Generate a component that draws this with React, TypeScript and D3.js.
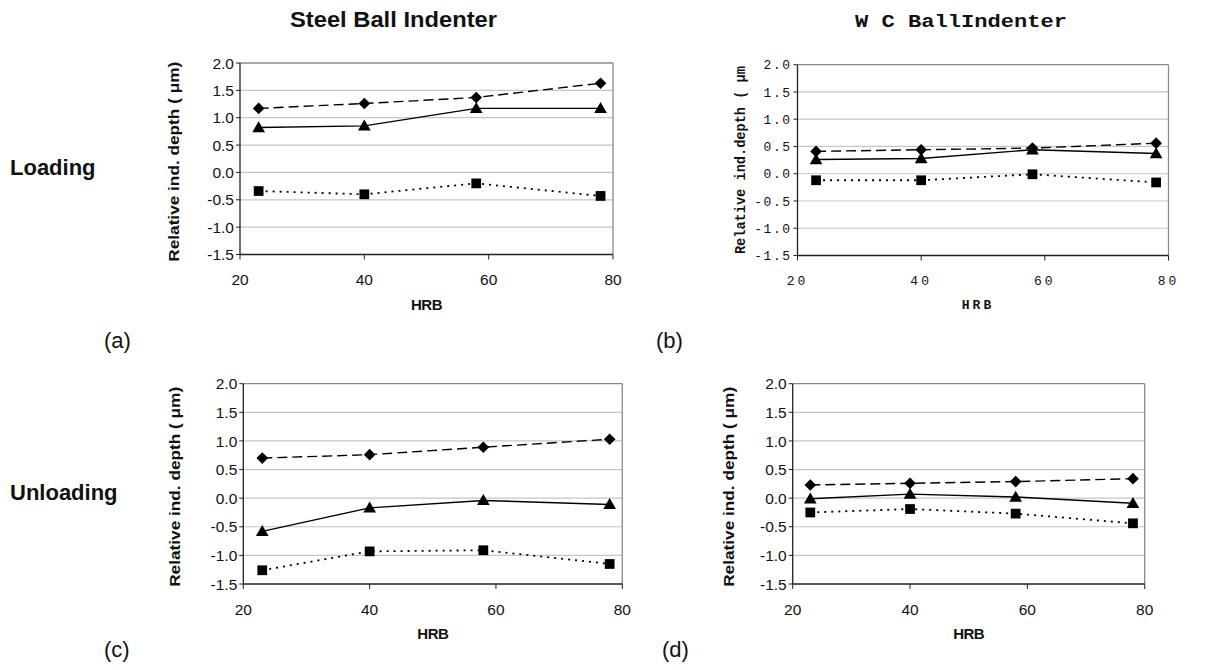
import React from "react";
import * as d3 from "d3";

// ---------- data ----------
const HRB_VALUES = [23, 40, 58, 78];
const X_TICKS = [20, 40, 60, 80];
const Y_TICKS = [-1.5, -1.0, -0.5, 0.0, 0.5, 1.0, 1.5, 2.0];

const A_DIAMOND = [1.17, 1.26, 1.37, 1.63];
const A_TRIANGLE = [0.82, 0.85, 1.17, 1.17];
const A_SQUARE = [-0.34, -0.4, -0.2, -0.43];

const B_DIAMOND = [0.41, 0.44, 0.47, 0.56];
const B_TRIANGLE = [0.26, 0.28, 0.44, 0.37];
const B_SQUARE = [-0.12, -0.12, -0.01, -0.16];

const C_DIAMOND = [0.7, 0.76, 0.89, 1.03];
const C_TRIANGLE = [-0.58, -0.17, -0.04, -0.11];
const C_SQUARE = [-1.26, -0.93, -0.91, -1.15];

const D_DIAMOND = [0.23, 0.26, 0.29, 0.34];
const D_TRIANGLE = [-0.01, 0.07, 0.02, -0.09];
const D_SQUARE = [-0.25, -0.19, -0.27, -0.44];

const Y_LABEL = "Relative ind. depth ( \u03bcm)";
const Y_LABEL_MONO = "Relative ind.depth ( \u03bcm";

// ---------- layout ----------
const SANS = "'Liberation Sans', Arial, sans-serif";
const MONO = "'Liberation Mono', 'DejaVu Sans Mono', monospace";

const PANELS = [
  { key: "a", x0: 240, x1: 613, y0: 63, y1: 254.5, mono: false, ylx: 179, series: [A_DIAMOND, A_TRIANGLE, A_SQUARE] },
  { key: "b", x0: 797.5, x1: 1168.5, y0: 64.7, y1: 255.5, mono: true, ylx: 745, series: [B_DIAMOND, B_TRIANGLE, B_SQUARE] },
  { key: "c", x0: 243.3, x1: 622.3, y0: 383.7, y1: 584, mono: false, ylx: 180, series: [C_DIAMOND, C_TRIANGLE, C_SQUARE] },
  { key: "d", x0: 792.7, x1: 1144.7, y0: 383.7, y1: 584, mono: false, ylx: 734, series: [D_DIAMOND, D_TRIANGLE, D_SQUARE] },
];

const SERIES_STYLE = [
  { dash: "10,5", width: 1.4, symbol: d3.symbolSquare, size: 68, rot: 45, dy: 0 },
  { dash: null, width: 1.4, symbol: d3.symbolTriangle, size: 70, rot: 0, dy: 1 },
  { dash: "2,5", width: 1.8, symbol: d3.symbolSquare, size: 95, rot: 0, dy: 0 },
];

function Panel({ p }: { p: any }) {
  const x = d3.scaleLinear().domain([20, 80]).range([p.x0, p.x1]);
  const y = d3.scaleLinear().domain([-1.5, 2.0]).range([p.y1, p.y0]);
  const line = d3
    .line<number>()
    .x((_, i) => x(HRB_VALUES[i]))
    .y((v) => y(v));
  const font = p.mono ? MONO : SANS;
  const tickSize = p.mono ? 13 : 15.5;
  const cx = (p.x0 + p.x1) / 2;
  const cy = (p.y0 + p.y1) / 2;
  return (
    <g>
      {Y_TICKS.filter((t) => t > -1.5 && t < 2.0).map((t) => (
        <line key={"g" + t} x1={p.x0} x2={p.x1} y1={y(t)} y2={y(t)} stroke="#c6c6c6" strokeWidth={1.2} />
      ))}
      <line x1={p.x0} x2={p.x1} y1={p.y0} y2={p.y0} stroke="#8a8a8a" strokeWidth={1.3} />
      <line x1={p.x1} x2={p.x1} y1={p.y0} y2={p.y1} stroke="#8a8a8a" strokeWidth={1.3} />
      <line x1={p.x0} x2={p.x0} y1={p.y0} y2={p.y1} stroke="#222" strokeWidth={1.3} />
      <line x1={p.x0} x2={p.x1} y1={p.y1} y2={p.y1} stroke="#222" strokeWidth={1.3} />
      {Y_TICKS.map((t) => (
        <g key={"yt" + t}>
          <line x1={p.x0 - 4} x2={p.x0} y1={y(t)} y2={y(t)} stroke="#222" strokeWidth={1} />
          <text
            x={p.x0 - 6}
            y={y(t)}
            dy="0.36em"
            textAnchor="end"
            fontFamily={font}
            fontSize={tickSize}
            letterSpacing={p.mono ? 1.5 : 0}
            fill="#111"
          >
            {t.toFixed(1)}
          </text>
        </g>
      ))}
      {X_TICKS.map((t) => (
        <g key={"xt" + t}>
          <line x1={x(t)} x2={x(t)} y1={p.y1} y2={p.y1 + 5} stroke="#222" strokeWidth={1} />
          <text
            x={x(t)}
            y={p.y1 + (p.mono ? 29 : 30.5)}
            textAnchor="middle"
            fontFamily={font}
            fontSize={tickSize}
            letterSpacing={p.mono ? 3 : 0}
            fill="#111"
          >
            {t}
          </text>
        </g>
      ))}
      <text
        x={p.mono ? cx - 5 : cx}
        y={p.y1 + (p.mono ? 53 : 55)}
        textAnchor="middle"
        fontFamily={font}
        fontWeight="bold"
        fontSize={p.mono ? 13 : 15}
        letterSpacing={p.mono ? 3 : -0.5}
        fill="#111"
      >
        HRB
      </text>
      {p.mono ? (
        <text
          transform={`translate(${p.ylx},${cy}) rotate(-90)`}
          textAnchor="middle"
          fontFamily={MONO}
          fontWeight="bold"
          fontSize={14}
          textLength={188}
          lengthAdjust="spacingAndGlyphs"
          fill="#111"
        >
          {Y_LABEL_MONO}
        </text>
      ) : (
        <text
          transform={`translate(${p.ylx},${cy + 3}) rotate(-90)`}
          textAnchor="middle"
          fontFamily={SANS}
          fontWeight="bold"
          fontSize={14.5}
          textLength={200}
          lengthAdjust="spacingAndGlyphs"
          fill="#111"
        >
          {Y_LABEL}
        </text>
      )}
      {p.series.map((vals: number[], si: number) => {
        const st = SERIES_STYLE[si];
        const sym = d3.symbol().type(st.symbol).size(st.size)();
        return (
          <g key={"s" + si}>
            <path
              d={line(vals) || ""}
              fill="none"
              stroke="#000"
              strokeWidth={st.width}
              strokeDasharray={st.dash || undefined}
            />
            {vals.map((v, i) => (
              <path
                key={i}
                d={sym || ""}
                transform={`translate(${x(HRB_VALUES[i])},${y(v) + st.dy}) rotate(${st.rot})`}
                fill="#000"
              />
            ))}
          </g>
        );
      })}
    </g>
  );
}

export default function App() {
  return (
    <svg
      width={1208}
      height={670}
      style={{ position: "absolute", left: 0, top: 0, background: "#fff" }}
    >
      <rect x={0} y={0} width={1208} height={670} fill="#fff" />
      <text x={290} y={27} fontFamily={SANS} fontWeight="bold" fontSize={22} textLength={207} lengthAdjust="spacingAndGlyphs" fill="#111">
        Steel Ball Indenter
      </text>
      <text x={855} y={27} fontFamily={MONO} fontWeight="bold" fontSize={18} textLength={212} lengthAdjust="spacingAndGlyphs" fill="#111">
        W C BallIndenter
      </text>
      <text x={10} y={175} fontFamily={SANS} fontWeight="bold" fontSize={22} fill="#111">
        Loading
      </text>
      <text x={10} y={500} fontFamily={SANS} fontWeight="bold" fontSize={22} fill="#111">
        Unloading
      </text>
      <text x={104} y={348} fontFamily={SANS} fontSize={22} fill="#111">(a)</text>
      <text x={656} y={348} fontFamily={SANS} fontSize={22} fill="#111">(b)</text>
      <text x={104} y={657} fontFamily={SANS} fontSize={22} fill="#111">(c)</text>
      <text x={662} y={657} fontFamily={SANS} fontSize={22} fill="#111">(d)</text>
      {PANELS.map((p) => (
        <Panel key={p.key} p={p} />
      ))}
    </svg>
  );
}
